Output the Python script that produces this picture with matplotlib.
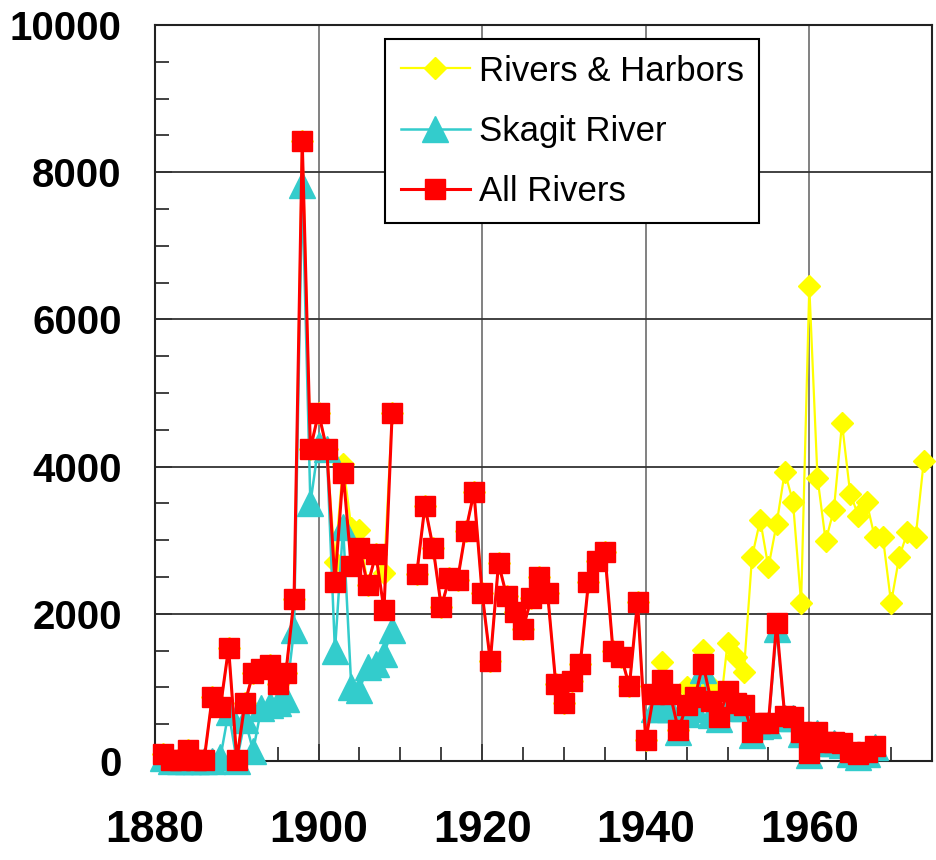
import numpy as np
import matplotlib
matplotlib.use("Agg")
import matplotlib.pyplot as plt

plt.rcParams['font.family'] = ['Liberation Sans', 'DejaVu Sans']

nan = np.nan
years = list(range(1881, 1975))

# All Rivers (red squares)
all_rivers = [
    100, 10, 10, 150, 10, 10, 870, 735, 1535, 20,            # 1881-1890
    795, 1195, 1245, 1310, 1045, 1195, 2200, 8430, 4240, 4730,  # 1891-1900
    4240, 2430, 3920, 2650, 2900, 2385, 2810, 2055, 4730, nan,  # 1901-1910
    nan, 2540, 3465, 2900, 2095, 2490, 2465, 3130, 3650, 2280,  # 1911-1920
    1355, 2685, 2240, 2020, 1800, 2210, 2495, 2280, 1050, 795,  # 1921-1930
    1085, 1315, 2430, 2720, 2835, 1495, 1420, 1015, 2165, 280,  # 1931-1940
    915, 1095, 905, 420, 765, 865, 1315, 815, 600, 945,         # 1941-1950
    790, 757, 390, 510, 510, 1870, 610, 600, 400, 110,          # 1951-1960
    400, 260, 260, 240, 120, 90, 120, 210, nan, nan,            # 1961-1970
    nan, nan, nan, nan,                                         # 1971-1974
]

# Skagit River (cyan triangles)
skagit = [
    40, 0, 0, 0, 0, 0, 0, 50, 670, 0,                           # 1881-1890
    560, 140, 720, 760, 790, 840, 1780, 7820, 3500, 4300,       # 1891-1900
    4240, 1500, 3180, 1010, 970, 1280, 1320, 1460, 1775, nan,   # 1901-1910
    nan, nan, nan, nan, nan, nan, nan, nan, nan, nan,           # 1911-1920
    nan, nan, nan, nan, nan, nan, nan, nan, nan, nan,           # 1921-1930
    nan, nan, nan, nan, nan, nan, nan, nan, nan, nan,           # 1931-1940
    700, 700, 700, 390, 640, 700, 1230, 620, 570, 720,          # 1941-1950
    740, 720, 360, 480, 490, 1790, 590, 580, 370, 80,           # 1951-1960
    380, 240, 240, 220, 90, 60, 100, 190, nan, nan,             # 1961-1970
    nan, nan, nan, nan,                                         # 1971-1974
]

# Rivers & Harbors (yellow diamonds)
rivers_harbors = [
    100, 10, 10, 150, 10, 10, 870, 735, 1535, 20,            # 1881-1890
    795, 1195, 1245, 1310, 1045, 1195, 2200, 8430, 4240, 4730,  # 1891-1900
    4240, 2700, 4040, 3170, 3140, 2385, 2810, 2550, 4730, nan,  # 1901-1910
    nan, 2540, 3465, 2900, 2095, 2490, 2465, 3130, 3650, 2280,  # 1911-1920
    1355, 2685, 2240, 2020, 1800, 2210, 2495, 2280, 1050, 795,  # 1921-1930
    1085, 1315, 2430, 2720, 2835, 1495, 1420, 1015, 2165, 280,  # 1931-1940
    915, 1340, 905, 420, 1010, 865, 1510, 1015, 600, 1600,      # 1941-1950
    1410, 1215, 2776, 3274, 2632, 3220, 3928, 3526, 2149, 6448,  # 1951-1960
    3851, 2993, 3409, 4588, 3634, 3332, 3526, 3038, 3038, 2149,  # 1961-1970
    2776, 3106, 3038, 4077,                                      # 1971-1974
]

fig = plt.figure(figsize=(9.36, 8.6), dpi=100)
ax = fig.add_axes([0.1656, 0.1151, 0.8301, 0.8558])

ax.plot(years, rivers_harbors, color='#FFFF00', lw=1.6, marker='D', ms=11.5,
        mec='#FFFF00', label='Rivers & Harbors', clip_on=False, zorder=3)
ax.plot(years, skagit, color='#33CCCC', lw=1.8, marker='^', ms=19,
        mec='#33CCCC', label='Skagit River', clip_on=False, zorder=4)
ax.plot(years, all_rivers, color='#FF0000', lw=2.2, marker='s', ms=14,
        mec='#FF0000', label='All Rivers', clip_on=False, zorder=5)

ax.set_xlim(1880, 1975)
ax.set_ylim(0, 10000)

ax.set_xticks([1880, 1900, 1920, 1940, 1960])
ax.set_xticklabels(['1880', '1900', '1920', '1940', '1960'],
                   fontsize=32, fontweight='bold')
ax.set_xticks(np.arange(1880, 1976, 5), minor=True)
ax.set_yticks([0, 2000, 4000, 6000, 8000, 10000])
ax.set_yticklabels(['0', '2000', '4000', '6000', '8000', '10000'],
                   fontsize=29, fontweight='bold')
ax.set_yticks(np.arange(0, 10001, 500), minor=True)

ax.tick_params(axis='both', which='both', direction='in', width=1.3, color='#333333')
ax.tick_params(axis='both', which='major', length=12)
ax.tick_params(axis='both', which='minor', length=10)
ax.tick_params(axis='x', which='major', pad=35)
ax.tick_params(axis='y', which='major', pad=24)

ax.grid(True, axis='x', which='major', color='#777777', lw=1.3, zorder=1)
ax.grid(True, axis='y', which='major', color='#333333', lw=1.3, zorder=1)
ax.set_axisbelow(True)

for sp in ax.spines.values():
    sp.set_linewidth(1.5)
    sp.set_color('#222222')

leg = ax.legend(loc='upper left', bbox_to_anchor=(0.296, 0.981),
                fontsize=25, frameon=True, fancybox=False, edgecolor='black',
                framealpha=1, borderpad=0.45, handlelength=2.0,
                handletextpad=0.25, labelspacing=0.78, borderaxespad=0,
                numpoints=1)
leg.get_frame().set_linewidth(1.5)
leg.set_zorder(10)

fig.savefig('out.png', dpi=100)
